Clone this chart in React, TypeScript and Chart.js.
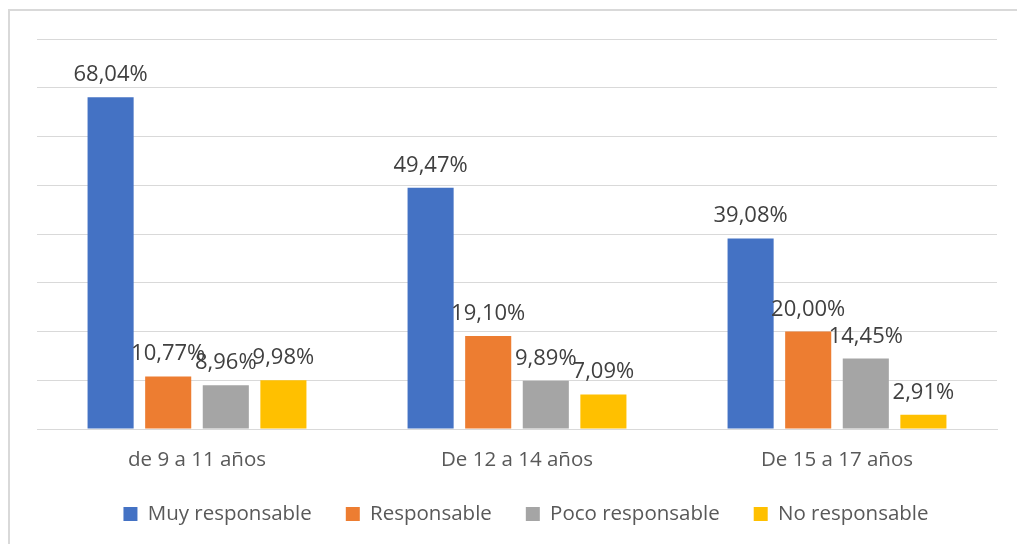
import React, { useEffect, useRef } from "react";
import { Chart, registerables } from "chart.js";

Chart.register(...registerables);

const categories = ["de 9 a 11 años", "De 12 a 14 años", "De 15 a 17 años"];
const seriesNames = ["Muy responsable", "Responsable", "Poco responsable", "No responsable"];
const muyResponsable = [68.04, 49.47, 39.08];
const responsable = [10.77, 19.1, 20.0];
const pocoResponsable = [8.96, 9.89, 14.45];
const noResponsable = [9.98, 7.09, 2.91];
const seriesColors = ["#4472C4", "#ED7D31", "#A5A5A5", "#FFC000"];

const FONT = "'Open Sans', sans-serif";

const fmt = (v: number) => v.toFixed(2).replace(".", ",") + "%";

const dataLabelPlugin = {
  id: "dataLabels",
  afterDatasetsDraw(chart: any) {
    const ctx = chart.ctx;
    ctx.save();
    ctx.font = `22px ${FONT}`;
    ctx.fillStyle = "#404040";
    ctx.textAlign = "center";
    ctx.textBaseline = "alphabetic";
    chart.data.datasets.forEach((ds: any, di: number) => {
      const meta = chart.getDatasetMeta(di);
      meta.data.forEach((bar: any, i: number) => {
        ctx.fillText(fmt(ds.data[i]), bar.x, bar.y - 16);
      });
    });
    ctx.restore();
  },
};

const layoutFixPlugin = {
  id: "layoutFix",
  afterLayout(chart: any) {
    // let x tick labels extend below the shortened axis box
    if (chart.scales.x) chart.scales.x.bottom = chart.height;
    if (chart.legend) {
      chart.legend.left += 9;
      chart.legend.right += 9;
    }
  },
};

export default function App() {
  const ref = useRef<HTMLCanvasElement>(null);
  useEffect(() => {
    if (!ref.current) return;
    const values = [muyResponsable, responsable, pocoResponsable, noResponsable];
    const chart = new Chart(ref.current, {
      type: "bar",
      data: {
        labels: categories,
        datasets: seriesNames.map((name, i) => ({
          label: name,
          data: values[i],
          backgroundColor: seriesColors[i],
          borderWidth: 0,
          categoryPercentage: 0.72,
          barPercentage: 0.8,
        })),
      },
      options: {
        responsive: false,
        animation: false,
        layout: { padding: { left: 37, right: 20, top: 39, bottom: 9.75 } },
        scales: {
          x: {
            grid: { display: false, drawTicks: false },
            border: { color: "#d9d9d9", width: 1 },
            ticks: { font: { family: FONT, size: 20.5 }, color: "#595959", padding: 19 },
            afterFit: (scale: any) => {
              scale.height = 40.75;
            },
          },
          y: {
            min: 0,
            max: 80,
            ticks: { stepSize: 10, display: false },
            grid: { color: "#d9d9d9", lineWidth: 1, drawTicks: false },
            border: { display: false },
          },
        },
        plugins: {
          legend: {
            position: "bottom",
            labels: {
              boxWidth: 14,
              boxHeight: 14,
              padding: 34,
              color: "#595959",
              font: { family: FONT, size: 20.5 },
            },
          },
          tooltip: { enabled: false },
        },
      },
      plugins: [dataLabelPlugin, layoutFixPlugin],
    });
    return () => chart.destroy();
  }, []);

  return (
    <div style={{ position: "fixed", left: 0, top: 0, width: 1017, height: 544, overflow: "hidden", background: "#fff" }}>
      <div
        style={{
          position: "absolute",
          left: 8,
          top: 9,
          width: 1100,
          height: 600,
          border: "2px solid #d9d9d9",
          boxSizing: "border-box",
        }}
      />
      <canvas ref={ref} width={1017} height={544} style={{ position: "absolute", left: 0, top: 0 }} />
    </div>
  );
}
